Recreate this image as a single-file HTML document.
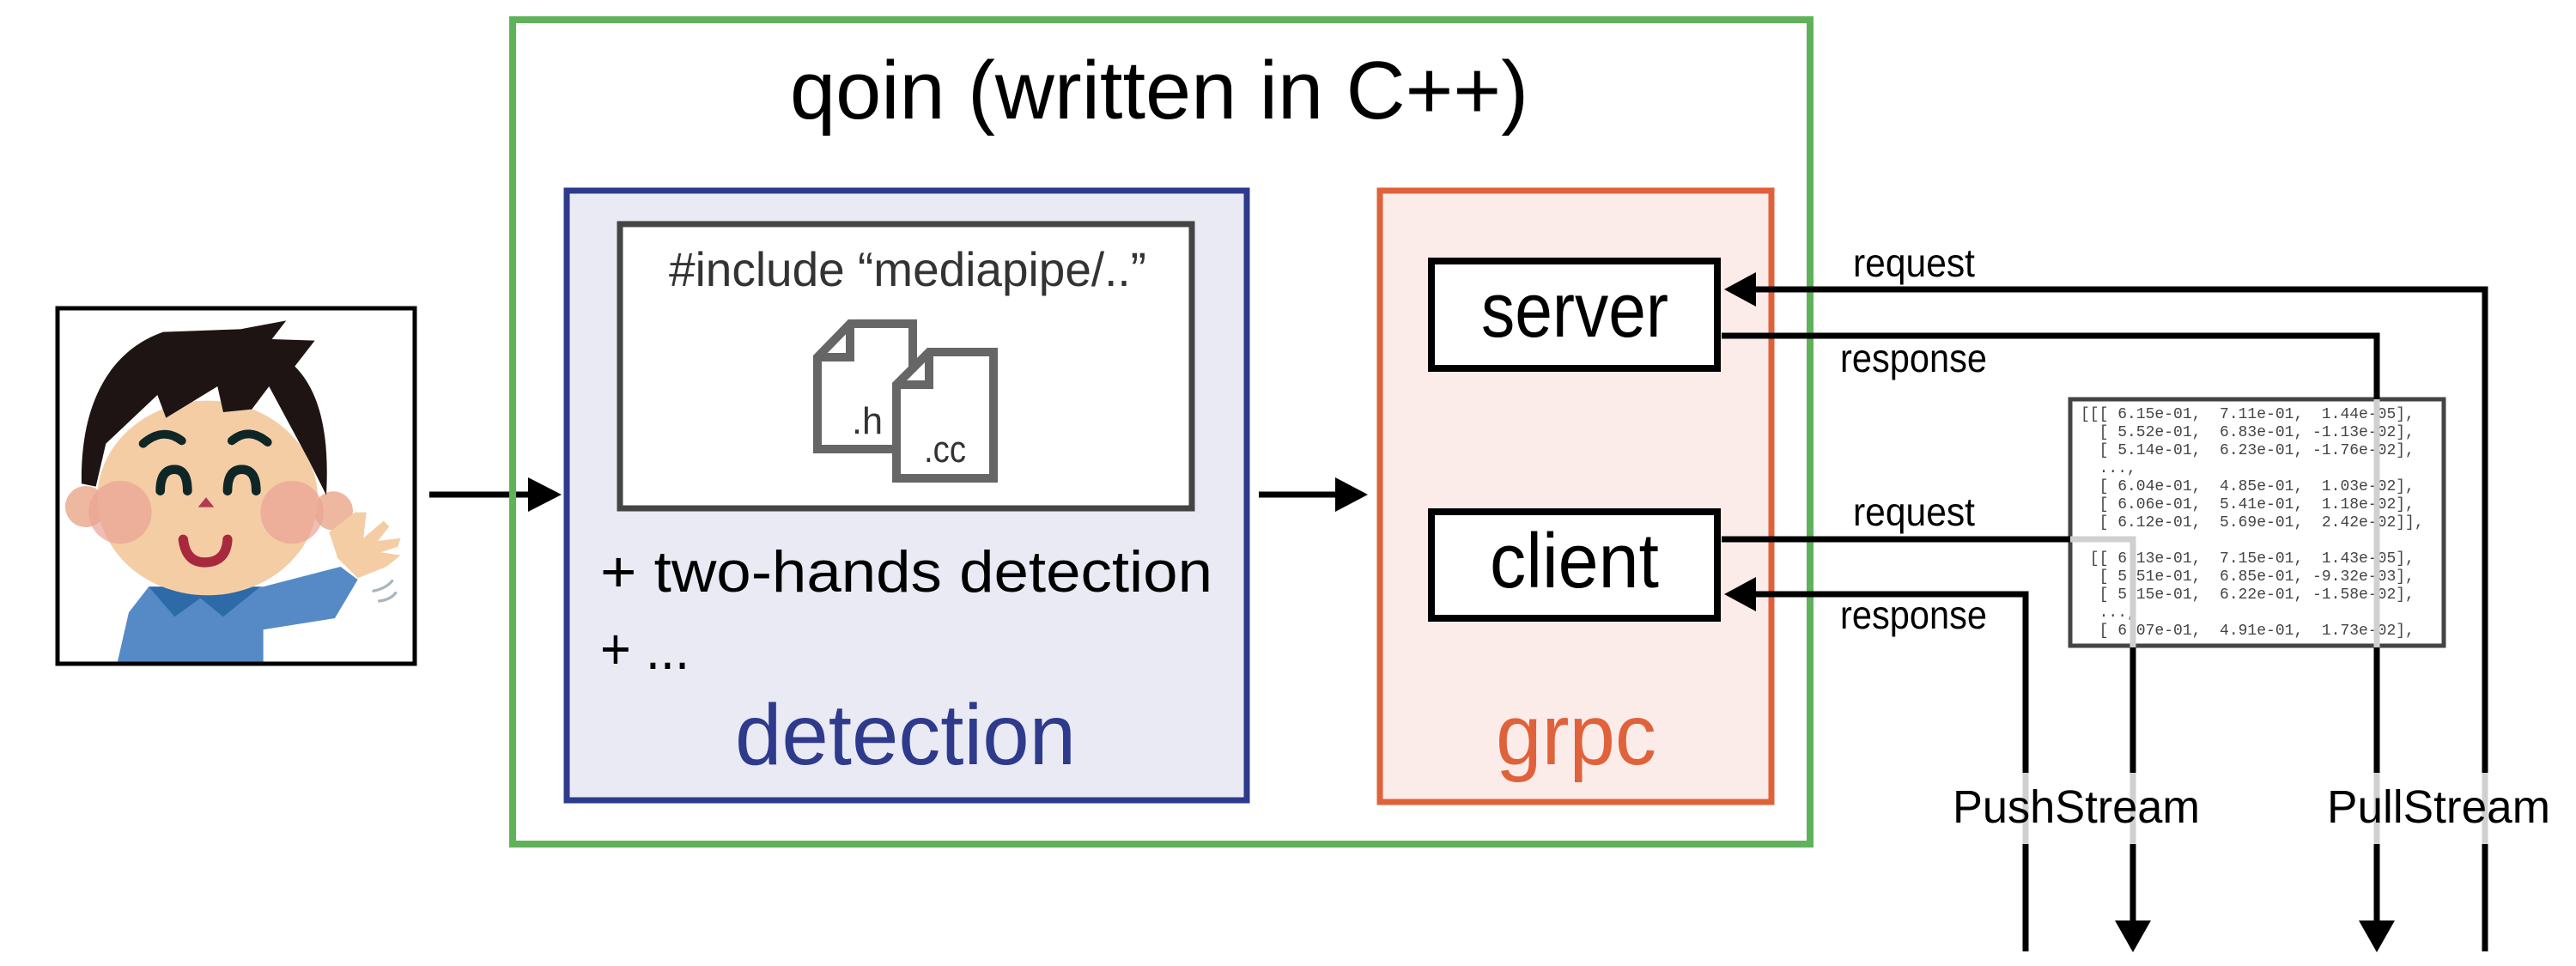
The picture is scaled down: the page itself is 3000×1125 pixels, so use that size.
<!DOCTYPE html>
<html><head><meta charset="utf-8"><style>
html,body{margin:0;padding:0;background:#fff;}
svg{display:block;}
text{font-family:"Liberation Sans",sans-serif;}
.m{font-family:"Liberation Mono",monospace;font-size:18px;fill:#444;white-space:pre;}
</style></head><body>
<svg width="3000" height="1125" viewBox="0 0 3000 1125" xmlns="http://www.w3.org/2000/svg">
<rect width="3000" height="1125" fill="#fff"/>

<!-- person picture -->
<g transform="translate(40,350) scale(0.3333)">
  <path d="M290,1265 L330,1090 L400,1000 L800,1000 L1070,930 L1130,975 L1050,1110 L800,1150 L800,1265 Z" fill="#558ac6"/>
  <path d="M400,1000 L490,1105 L580,1040 L660,1105 L790,1000 Z" fill="#2d6aa7"/>
  <circle cx="180" cy="720" r="72" fill="#eeb7a0"/>
  <circle cx="1045" cy="735" r="68" fill="#eeb7a0"/>
  <ellipse cx="605" cy="690" rx="385" ry="340" fill="#f4cda5"/>
  <ellipse cx="300" cy="740" rx="110" ry="110" fill="#eaa394" opacity="0.7"/>
  <ellipse cx="900" cy="740" rx="110" ry="110" fill="#eaa394" opacity="0.7"/>
  <path d="M1030,810 L1120,740 L1160,740 L1150,830 L1220,770 L1240,790 L1200,840 L1280,830 L1270,860 L1210,880 L1280,890 L1230,930 L1130,970 L1060,900 Z" fill="#f4cda5"/>
  <path d="M165,640 C160,380 250,180 450,110 L720,100 L880,70 L830,135 L980,140 L910,230 C1010,330 1030,500 1020,680 L960,560 L820,300 L760,380 L660,390 L640,300 L460,410 L430,330 L250,500 L215,650 Z" fill="#1f1414"/>
  <path d="M380,500 Q450,440 515,490" stroke="#0f2626" stroke-width="30" fill="none" stroke-linecap="round"/>
  <path d="M690,490 Q750,440 815,495" stroke="#0f2626" stroke-width="30" fill="none" stroke-linecap="round"/>
  <path d="M440,665 Q440,590 490,590 Q535,590 535,665" stroke="#0f2626" stroke-width="32" fill="none" stroke-linecap="round"/>
  <path d="M675,665 Q675,590 725,590 Q775,590 775,665" stroke="#0f2626" stroke-width="32" fill="none" stroke-linecap="round"/>
  <path d="M572,722 L600,688 L628,722 Z" fill="#b03a50"/>
  <path d="M520,835 Q530,915 595,915 Q670,915 675,835" stroke="#a8283e" stroke-width="34" fill="none" stroke-linecap="round"/>
  <path d="M1185,1015 Q1230,1005 1250,980 M1205,1050 Q1245,1045 1262,1022" stroke="#aab6bd" stroke-width="10" fill="none" stroke-linecap="round"/>
</g>
<rect x="67" y="359" width="416" height="414" fill="none" stroke="#000" stroke-width="5"/>

<!-- arrow into detection -->
<line x1="500" y1="576" x2="625" y2="576" stroke="#000" stroke-width="7"/>
<path d="M615,556 L654,576 L615,596 Z" fill="#000"/>

<!-- qoin outer -->
<rect x="597" y="23" width="1511" height="960" fill="none" stroke="#5fb25a" stroke-width="8"/>
<text x="920" y="138" font-size="96" textLength="860" lengthAdjust="spacingAndGlyphs">qoin (written in C++)</text>

<!-- detection box -->
<rect x="660" y="222" width="792" height="710" fill="#e9eaf3" stroke="#2e3a8c" stroke-width="7"/>
<rect x="722" y="261" width="666" height="331" fill="#fff" stroke="#444" stroke-width="7"/>
<text x="779" y="333" font-size="56" fill="#333" textLength="556" lengthAdjust="spacingAndGlyphs">#include “mediapipe/..”</text>
<!-- file icons -->
<path d="M952,416 L952,523 L1063,523 L1063,377 L990,377 Z" fill="#fff" stroke="#666" stroke-width="10"/>
<path d="M990,377 L990,416 L952,416" fill="none" stroke="#666" stroke-width="10"/>
<text x="992" y="505" font-size="44" fill="#333" textLength="36" lengthAdjust="spacingAndGlyphs">.h</text>
<path d="M1044,448 L1044,557 L1157,557 L1157,410 L1082,410 Z" fill="#fff" stroke="#666" stroke-width="10"/>
<path d="M1082,410 L1082,448 L1044,448" fill="none" stroke="#666" stroke-width="10"/>
<text x="1076" y="538" font-size="44" fill="#333" textLength="49" lengthAdjust="spacingAndGlyphs">.cc</text>
<text x="699" y="689" font-size="68" textLength="713" lengthAdjust="spacingAndGlyphs">+ two-hands detection</text>
<text x="699" y="779" font-size="68" textLength="104" lengthAdjust="spacingAndGlyphs">+ ...</text>
<text x="856" y="890" font-size="100" fill="#2e3a8c" textLength="397" lengthAdjust="spacingAndGlyphs">detection</text>

<!-- arrow into grpc -->
<line x1="1466" y1="576" x2="1565" y2="576" stroke="#000" stroke-width="7"/>
<path d="M1555,556 L1593,576 L1555,596 Z" fill="#000"/>

<!-- grpc box -->
<rect x="1607" y="222" width="456" height="712" fill="#fbecea" stroke="#e0623a" stroke-width="7"/>
<rect x="1667" y="304" width="333" height="125" fill="#fff" stroke="#000" stroke-width="8"/>
<text x="1725" y="392" font-size="90" textLength="218" lengthAdjust="spacingAndGlyphs">server</text>
<rect x="1667" y="596" width="333" height="124" fill="#fff" stroke="#000" stroke-width="8"/>
<text x="1735" y="684" font-size="90" textLength="197" lengthAdjust="spacingAndGlyphs">client</text>
<text x="1742" y="890" font-size="100" fill="#e0623a" textLength="187" lengthAdjust="spacingAndGlyphs">grpc</text>

<!-- data box -->
<rect x="2411" y="465" width="435" height="287" fill="#fff" stroke="#444" stroke-width="5"/>
<text class="m" x="2423" y="487">[[[ 6.15e-01,  7.11e-01,  1.44e-05],</text>
<text class="m" x="2423" y="508">  [ 5.52e-01,  6.83e-01, -1.13e-02],</text>
<text class="m" x="2423" y="529">  [ 5.14e-01,  6.23e-01, -1.76e-02],</text>
<text class="m" x="2423" y="550">  ...,</text>
<text class="m" x="2423" y="571">  [ 6.04e-01,  4.85e-01,  1.03e-02],</text>
<text class="m" x="2423" y="592">  [ 6.06e-01,  5.41e-01,  1.18e-02],</text>
<text class="m" x="2423" y="613">  [ 6.12e-01,  5.69e-01,  2.42e-02]],</text>
<text class="m" x="2423" y="655"> [[ 6.13e-01,  7.15e-01,  1.43e-05],</text>
<text class="m" x="2423" y="676">  [ 5.51e-01,  6.85e-01, -9.32e-03],</text>
<text class="m" x="2423" y="697">  [ 5.15e-01,  6.22e-01, -1.58e-02],</text>
<text class="m" x="2423" y="718">  ...,</text>
<text class="m" x="2423" y="739">  [ 6.07e-01,  4.91e-01,  1.73e-02],</text>

<!-- connectors -->
<g stroke-width="7" fill="none">
  <polyline points="2040,337 2894,337 2894,900" stroke="#000"/>
  <line x1="2894" y1="900" x2="2894" y2="983" stroke="#d0d0d0"/>
  <line x1="2894" y1="983" x2="2894" y2="1108" stroke="#000"/>
  <polyline points="2005,391 2768,391 2768,465" stroke="#000"/>
  <line x1="2768" y1="465" x2="2768" y2="754" stroke="#d0d0d0"/>
  <line x1="2768" y1="754" x2="2768" y2="900" stroke="#000"/>
  <line x1="2768" y1="900" x2="2768" y2="983" stroke="#d0d0d0"/>
  <line x1="2768" y1="983" x2="2768" y2="1075" stroke="#000"/>
  <line x1="2005" y1="628" x2="2411" y2="628" stroke="#000"/>
  <polyline points="2411,628 2484,628 2484,754" stroke="#d0d0d0"/>
  <line x1="2484" y1="754" x2="2484" y2="900" stroke="#000"/>
  <line x1="2484" y1="900" x2="2484" y2="983" stroke="#d0d0d0"/>
  <line x1="2484" y1="983" x2="2484" y2="1075" stroke="#000"/>
  <polyline points="2040,692 2359,692 2359,900" stroke="#000"/>
  <line x1="2359" y1="900" x2="2359" y2="983" stroke="#d0d0d0"/>
  <line x1="2359" y1="983" x2="2359" y2="1108" stroke="#000"/>
</g>
<path d="M2008,337 L2045,317 L2045,357 Z" fill="#000"/>
<path d="M2008,692 L2045,672 L2045,712 Z" fill="#000"/>
<path d="M2463,1072 L2505,1072 L2484,1109 Z" fill="#000"/>
<path d="M2747,1072 L2789,1072 L2768,1109 Z" fill="#000"/>

<text x="2158" y="322" font-size="46" textLength="142" lengthAdjust="spacingAndGlyphs">request</text>
<text x="2143" y="433" font-size="46" textLength="171" lengthAdjust="spacingAndGlyphs">response</text>
<text x="2158" y="612" font-size="46" textLength="142" lengthAdjust="spacingAndGlyphs">request</text>
<text x="2143" y="732" font-size="46" textLength="171" lengthAdjust="spacingAndGlyphs">response</text>
<text x="2274" y="958" font-size="54" textLength="288" lengthAdjust="spacingAndGlyphs">PushStream</text>
<text x="2710" y="958" font-size="54" textLength="260" lengthAdjust="spacingAndGlyphs">PullStream</text>
</svg>
</body></html>
